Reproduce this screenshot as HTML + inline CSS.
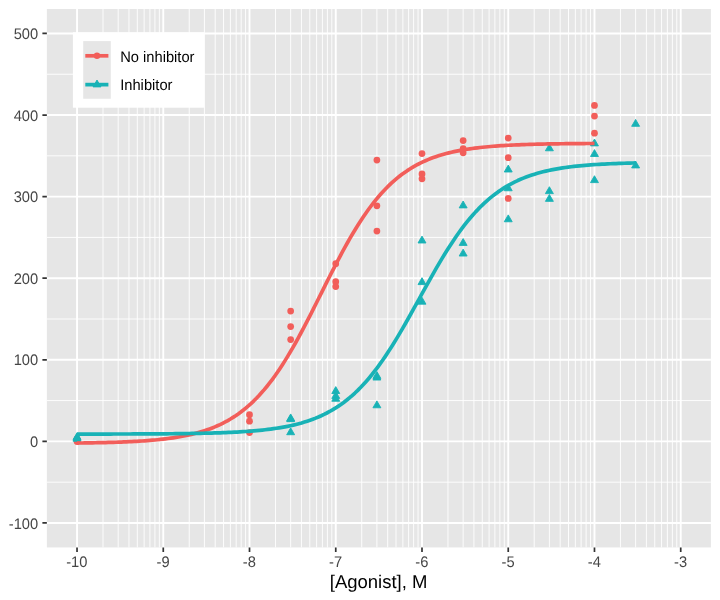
<!DOCTYPE html>
<html><head><meta charset="utf-8"><title>Dose response</title>
<style>
html,body{margin:0;padding:0;background:#fff;}
body{width:720px;height:600px;overflow:hidden;font-family:"Liberation Sans",sans-serif;}
svg{display:block;font-family:"Liberation Sans",sans-serif;}
svg{will-change:transform;}
svg text{text-rendering:geometricPrecision;}
</style></head><body>
<svg width="720" height="600" viewBox="0 0 720 600">
<defs><clipPath id="pc"><rect x="46.85" y="8.97" width="664.05" height="538.48"/></clipPath></defs>
<rect width="720" height="600" fill="#fff"/>
<rect x="46.85" y="8.97" width="664.05" height="538.48" fill="#E6E6E6"/>
<path d="M46.85 482.18H710.90M46.85 400.59H710.90M46.85 319.00H710.90M46.85 237.42H710.90M46.85 155.83H710.90M46.85 74.24H710.90M102.99 8.97V547.45M118.18 8.97V547.45M128.96 8.97V547.45M137.31 8.97V547.45M144.14 8.97V547.45M149.92 8.97V547.45M154.92 8.97V547.45M159.33 8.97V547.45M189.24 8.97V547.45M204.42 8.97V547.45M215.20 8.97V547.45M223.55 8.97V547.45M230.38 8.97V547.45M236.16 8.97V547.45M241.16 8.97V547.45M245.57 8.97V547.45M275.48 8.97V547.45M290.66 8.97V547.45M301.44 8.97V547.45M309.79 8.97V547.45M316.62 8.97V547.45M322.40 8.97V547.45M327.40 8.97V547.45M331.81 8.97V547.45M361.72 8.97V547.45M376.90 8.97V547.45M387.68 8.97V547.45M396.03 8.97V547.45M402.86 8.97V547.45M408.64 8.97V547.45M413.64 8.97V547.45M418.05 8.97V547.45M447.96 8.97V547.45M463.14 8.97V547.45M473.92 8.97V547.45M482.27 8.97V547.45M489.10 8.97V547.45M494.88 8.97V547.45M499.88 8.97V547.45M504.29 8.97V547.45M534.20 8.97V547.45M549.38 8.97V547.45M560.16 8.97V547.45M568.51 8.97V547.45M575.34 8.97V547.45M581.12 8.97V547.45M586.12 8.97V547.45M590.53 8.97V547.45M620.44 8.97V547.45M635.62 8.97V547.45M646.40 8.97V547.45M654.76 8.97V547.45M661.58 8.97V547.45M667.36 8.97V547.45M672.36 8.97V547.45M676.77 8.97V547.45" stroke="#fff" stroke-width="0.9" fill="none"/>
<path d="M46.85 522.97H710.90M46.85 441.39H710.90M46.85 359.80H710.90M46.85 278.21H710.90M46.85 196.62H710.90M46.85 115.03H710.90M46.85 33.45H710.90M77.03 8.97V547.45M163.27 8.97V547.45M249.51 8.97V547.45M335.75 8.97V547.45M422.00 8.97V547.45M508.24 8.97V547.45M594.48 8.97V547.45M680.72 8.97V547.45" stroke="#fff" stroke-width="1.9" fill="none"/>
<g clip-path="url(#pc)">
<circle cx="77.03" cy="441.59" r="3.37" fill="#F25E5A"/>
<circle cx="249.51" cy="432.61" r="3.37" fill="#F25E5A"/>
<circle cx="290.66" cy="339.60" r="3.37" fill="#F25E5A"/>
<circle cx="335.75" cy="286.57" r="3.37" fill="#F25E5A"/>
<circle cx="376.90" cy="231.09" r="3.37" fill="#F25E5A"/>
<circle cx="422.00" cy="178.87" r="3.37" fill="#F25E5A"/>
<circle cx="463.14" cy="152.76" r="3.37" fill="#F25E5A"/>
<circle cx="508.24" cy="157.66" r="3.37" fill="#F25E5A"/>
<circle cx="594.48" cy="105.44" r="3.37" fill="#F25E5A"/>
<circle cx="77.03" cy="439.14" r="3.37" fill="#F25E5A"/>
<circle cx="249.51" cy="414.66" r="3.37" fill="#F25E5A"/>
<circle cx="290.66" cy="311.05" r="3.37" fill="#F25E5A"/>
<circle cx="335.75" cy="263.72" r="3.37" fill="#F25E5A"/>
<circle cx="376.90" cy="205.80" r="3.37" fill="#F25E5A"/>
<circle cx="422.00" cy="153.58" r="3.37" fill="#F25E5A"/>
<circle cx="463.14" cy="148.69" r="3.37" fill="#F25E5A"/>
<circle cx="508.24" cy="198.45" r="3.37" fill="#F25E5A"/>
<circle cx="594.48" cy="133.18" r="3.37" fill="#F25E5A"/>
<circle cx="77.03" cy="439.95" r="3.37" fill="#F25E5A"/>
<circle cx="249.51" cy="421.19" r="3.37" fill="#F25E5A"/>
<circle cx="290.66" cy="326.55" r="3.37" fill="#F25E5A"/>
<circle cx="335.75" cy="281.67" r="3.37" fill="#F25E5A"/>
<circle cx="376.90" cy="160.11" r="3.37" fill="#F25E5A"/>
<circle cx="422.00" cy="173.98" r="3.37" fill="#F25E5A"/>
<circle cx="463.14" cy="140.53" r="3.37" fill="#F25E5A"/>
<circle cx="508.24" cy="138.08" r="3.37" fill="#F25E5A"/>
<circle cx="594.48" cy="116.05" r="3.37" fill="#F25E5A"/>
<path d="M77.03 434.35L81.01 441.23L73.06 441.23Z" fill="#18B2B6" stroke="#18B2B6" stroke-width="0.9" stroke-linejoin="round"/>
<path d="M290.66 427.82L294.63 434.71L286.69 434.71Z" fill="#18B2B6" stroke="#18B2B6" stroke-width="0.9" stroke-linejoin="round"/>
<path d="M335.75 394.37L339.73 401.25L331.78 401.25Z" fill="#18B2B6" stroke="#18B2B6" stroke-width="0.9" stroke-linejoin="round"/>
<path d="M376.90 371.53L380.87 378.41L372.93 378.41Z" fill="#18B2B6" stroke="#18B2B6" stroke-width="0.9" stroke-linejoin="round"/>
<path d="M422.00 297.28L425.97 304.16L418.02 304.16Z" fill="#18B2B6" stroke="#18B2B6" stroke-width="0.9" stroke-linejoin="round"/>
<path d="M463.14 201.01L467.12 207.89L459.17 207.89Z" fill="#18B2B6" stroke="#18B2B6" stroke-width="0.9" stroke-linejoin="round"/>
<path d="M508.24 214.88L512.21 221.76L504.26 221.76Z" fill="#18B2B6" stroke="#18B2B6" stroke-width="0.9" stroke-linejoin="round"/>
<path d="M549.38 143.90L553.36 150.78L545.41 150.78Z" fill="#18B2B6" stroke="#18B2B6" stroke-width="0.9" stroke-linejoin="round"/>
<path d="M594.48 149.61L598.45 156.49L590.50 156.49Z" fill="#18B2B6" stroke="#18B2B6" stroke-width="0.9" stroke-linejoin="round"/>
<path d="M635.62 119.42L639.60 126.30L631.65 126.30Z" fill="#18B2B6" stroke="#18B2B6" stroke-width="0.9" stroke-linejoin="round"/>
<path d="M77.03 432.72L81.01 439.60L73.06 439.60Z" fill="#18B2B6" stroke="#18B2B6" stroke-width="0.9" stroke-linejoin="round"/>
<path d="M290.66 414.77L294.63 421.65L286.69 421.65Z" fill="#18B2B6" stroke="#18B2B6" stroke-width="0.9" stroke-linejoin="round"/>
<path d="M335.75 386.62L339.73 393.50L331.78 393.50Z" fill="#18B2B6" stroke="#18B2B6" stroke-width="0.9" stroke-linejoin="round"/>
<path d="M376.90 400.90L380.87 407.78L372.93 407.78Z" fill="#18B2B6" stroke="#18B2B6" stroke-width="0.9" stroke-linejoin="round"/>
<path d="M422.00 236.09L425.97 242.97L418.02 242.97Z" fill="#18B2B6" stroke="#18B2B6" stroke-width="0.9" stroke-linejoin="round"/>
<path d="M463.14 238.54L467.12 245.42L459.17 245.42Z" fill="#18B2B6" stroke="#18B2B6" stroke-width="0.9" stroke-linejoin="round"/>
<path d="M508.24 165.11L512.21 171.99L504.26 171.99Z" fill="#18B2B6" stroke="#18B2B6" stroke-width="0.9" stroke-linejoin="round"/>
<path d="M549.38 194.48L553.36 201.36L545.41 201.36Z" fill="#18B2B6" stroke="#18B2B6" stroke-width="0.9" stroke-linejoin="round"/>
<path d="M594.48 139.00L598.45 145.88L590.50 145.88Z" fill="#18B2B6" stroke="#18B2B6" stroke-width="0.9" stroke-linejoin="round"/>
<path d="M77.03 433.53L81.01 440.42L73.06 440.42Z" fill="#18B2B6" stroke="#18B2B6" stroke-width="0.9" stroke-linejoin="round"/>
<path d="M290.66 413.95L294.63 420.84L286.69 420.84Z" fill="#18B2B6" stroke="#18B2B6" stroke-width="0.9" stroke-linejoin="round"/>
<path d="M335.75 391.52L339.73 398.40L331.78 398.40Z" fill="#18B2B6" stroke="#18B2B6" stroke-width="0.9" stroke-linejoin="round"/>
<path d="M376.90 373.16L380.87 380.04L372.93 380.04Z" fill="#18B2B6" stroke="#18B2B6" stroke-width="0.9" stroke-linejoin="round"/>
<path d="M422.00 277.70L425.97 284.58L418.02 284.58Z" fill="#18B2B6" stroke="#18B2B6" stroke-width="0.9" stroke-linejoin="round"/>
<path d="M463.14 249.15L467.12 256.03L459.17 256.03Z" fill="#18B2B6" stroke="#18B2B6" stroke-width="0.9" stroke-linejoin="round"/>
<path d="M508.24 183.88L512.21 190.76L504.26 190.76Z" fill="#18B2B6" stroke="#18B2B6" stroke-width="0.9" stroke-linejoin="round"/>
<path d="M549.38 186.73L553.36 193.61L545.41 193.61Z" fill="#18B2B6" stroke="#18B2B6" stroke-width="0.9" stroke-linejoin="round"/>
<path d="M594.48 175.72L598.45 182.60L590.50 182.60Z" fill="#18B2B6" stroke="#18B2B6" stroke-width="0.9" stroke-linejoin="round"/>
<path d="M635.62 161.03L639.60 167.91L631.65 167.91Z" fill="#18B2B6" stroke="#18B2B6" stroke-width="0.9" stroke-linejoin="round"/>
<path d="M77.03 443.04L79.63 443.01L82.23 442.98L84.83 442.94L87.43 442.90L90.04 442.86L92.64 442.81L95.24 442.77L97.84 442.71L100.44 442.66L103.04 442.60L105.64 442.54L108.24 442.47L110.84 442.40L113.44 442.32L116.04 442.23L118.64 442.14L121.24 442.05L123.84 441.95L126.44 441.84L129.04 441.72L131.64 441.59L134.24 441.46L136.84 441.31L139.44 441.16L142.04 440.99L144.64 440.81L147.24 440.62L149.84 440.42L152.44 440.20L155.04 439.97L157.64 439.72L160.24 439.45L162.84 439.17L165.44 438.86L168.04 438.53L170.64 438.18L173.24 437.81L175.84 437.41L178.44 436.98L181.04 436.53L183.64 436.04L186.24 435.52L188.84 434.96L191.44 434.37L194.04 433.73L196.64 433.06L199.24 432.34L201.84 431.57L204.44 430.75L207.04 429.87L209.64 428.94L212.24 427.95L214.85 426.90L217.45 425.77L220.05 424.58L222.65 423.31L225.25 421.97L227.85 420.54L230.45 419.02L233.05 417.42L235.65 415.72L238.25 413.92L240.85 412.01L243.45 410.00L246.05 407.88L248.65 405.64L251.25 403.29L253.85 400.81L256.45 398.20L259.05 395.47L261.65 392.60L264.25 389.60L266.85 386.46L269.45 383.19L272.05 379.77L274.65 376.22L277.25 372.53L279.85 368.70L282.45 364.73L285.05 360.63L287.65 356.40L290.25 352.05L292.85 347.57L295.45 342.99L298.05 338.29L300.65 333.50L303.25 328.62L305.85 323.66L308.45 318.63L311.05 313.54L313.65 308.40L316.25 303.22L318.85 298.02L321.45 292.82L324.05 287.61L326.65 282.41L329.25 277.25L331.85 272.12L334.45 267.04L337.05 262.02L339.66 257.07L342.26 252.21L344.86 247.44L347.46 242.77L350.06 238.20L352.66 233.76L355.26 229.43L357.86 225.23L360.46 221.16L363.06 217.22L365.66 213.42L368.26 209.76L370.86 206.23L373.46 202.85L376.06 199.60L378.66 196.49L381.26 193.52L383.86 190.68L386.46 187.97L389.06 185.40L391.66 182.94L394.26 180.61L396.86 178.40L399.46 176.30L402.06 174.32L404.66 172.44L407.26 170.66L409.86 168.98L412.46 167.39L415.06 165.90L417.66 164.49L420.26 163.16L422.86 161.91L425.46 160.73L428.06 159.62L430.66 158.58L433.26 157.60L435.86 156.68L438.46 155.82L441.06 155.01L443.66 154.25L446.26 153.54L448.86 152.87L451.46 152.25L454.06 151.66L456.66 151.11L459.26 150.60L461.86 150.12L464.47 149.67L467.07 149.25L469.67 148.85L472.27 148.49L474.87 148.14L477.47 147.82L480.07 147.52L482.67 147.24L485.27 146.97L487.87 146.73L490.47 146.50L493.07 146.28L495.67 146.08L498.27 145.89L500.87 145.72L503.47 145.56L506.07 145.40L508.67 145.26L511.27 145.13L513.87 145.00L516.47 144.89L519.07 144.78L521.67 144.68L524.27 144.58L526.87 144.50L529.47 144.41L532.07 144.34L534.67 144.26L537.27 144.20L539.87 144.14L542.47 144.08L545.07 144.02L547.67 143.97L550.27 143.92L552.87 143.88L555.47 143.84L558.07 143.80L560.67 143.76L563.27 143.73L565.87 143.70L568.47 143.67L571.07 143.64L573.67 143.62L576.27 143.59L578.87 143.57L581.47 143.55L584.07 143.53L586.68 143.51L589.28 143.50L591.88 143.48L594.48 143.47" stroke="#F25E5A" stroke-width="3.7" fill="none" stroke-linejoin="round" stroke-linecap="butt"/>
<path d="M77.03 434.07L79.84 434.07L82.65 434.07L85.46 434.06L88.26 434.06L91.07 434.06L93.88 434.05L96.68 434.05L99.49 434.05L102.30 434.04L105.10 434.04L107.91 434.03L110.72 434.03L113.52 434.02L116.33 434.02L119.14 434.01L121.95 434.00L124.75 434.00L127.56 433.99L130.37 433.98L133.17 433.97L135.98 433.96L138.79 433.95L141.59 433.94L144.40 433.92L147.21 433.91L150.02 433.90L152.82 433.88L155.63 433.86L158.44 433.85L161.24 433.83L164.05 433.80L166.86 433.78L169.66 433.76L172.47 433.73L175.28 433.70L178.09 433.67L180.89 433.64L183.70 433.60L186.51 433.56L189.31 433.52L192.12 433.47L194.93 433.43L197.73 433.37L200.54 433.32L203.35 433.26L206.16 433.19L208.96 433.12L211.77 433.05L214.58 432.96L217.38 432.88L220.19 432.78L223.00 432.68L225.80 432.57L228.61 432.45L231.42 432.32L234.22 432.18L237.03 432.04L239.84 431.88L242.65 431.71L245.45 431.52L248.26 431.32L251.07 431.11L253.87 430.88L256.68 430.63L259.49 430.37L262.29 430.08L265.10 429.77L267.91 429.44L270.72 429.08L273.52 428.70L276.33 428.29L279.14 427.85L281.94 427.37L284.75 426.87L287.56 426.32L290.36 425.73L293.17 425.10L295.98 424.43L298.79 423.70L301.59 422.93L304.40 422.09L307.21 421.20L310.01 420.25L312.82 419.23L315.63 418.14L318.43 416.98L321.24 415.74L324.05 414.41L326.86 413.00L329.66 411.49L332.47 409.89L335.28 408.19L338.08 406.38L340.89 404.45L343.70 402.41L346.50 400.26L349.31 397.97L352.12 395.56L354.92 393.01L357.73 390.33L360.54 387.51L363.35 384.54L366.15 381.43L368.96 378.17L371.77 374.77L374.57 371.22L377.38 367.53L380.19 363.69L382.99 359.70L385.80 355.59L388.61 351.34L391.42 346.96L394.22 342.46L397.03 337.85L399.84 333.14L402.64 328.34L405.45 323.46L408.26 318.51L411.06 313.50L413.87 308.45L416.68 303.37L419.49 298.28L422.29 293.18L425.10 288.10L427.91 283.05L430.71 278.04L433.52 273.09L436.33 268.20L439.13 263.39L441.94 258.67L444.75 254.06L447.56 249.55L450.36 245.17L453.17 240.91L455.98 236.78L458.78 232.79L461.59 228.94L464.40 225.23L467.20 221.67L470.01 218.26L472.82 215.00L475.62 211.88L478.43 208.90L481.24 206.07L484.05 203.38L486.85 200.82L489.66 198.40L492.47 196.11L495.27 193.94L498.08 191.89L500.89 189.96L503.69 188.14L506.50 186.43L509.31 184.82L512.12 183.31L514.92 181.89L517.73 180.56L520.54 179.31L523.34 178.14L526.15 177.05L528.96 176.02L531.76 175.07L534.57 174.17L537.38 173.34L540.19 172.56L542.99 171.83L545.80 171.15L548.61 170.52L551.41 169.93L554.22 169.38L557.03 168.87L559.83 168.39L562.64 167.95L565.45 167.54L568.26 167.15L571.06 166.79L573.87 166.46L576.68 166.15L579.48 165.86L582.29 165.60L585.10 165.35L587.90 165.12L590.71 164.90L593.52 164.70L596.33 164.52L599.13 164.34L601.94 164.18L604.75 164.04L607.55 163.90L610.36 163.77L613.17 163.65L615.97 163.54L618.78 163.44L621.59 163.34L624.39 163.25L627.20 163.17L630.01 163.09L632.82 163.02L635.62 162.96" stroke="#18B2B6" stroke-width="3.7" fill="none" stroke-linejoin="round" stroke-linecap="butt"/>
</g>
<path d="M42.40 522.97H46.85M42.40 441.39H46.85M42.40 359.80H46.85M42.40 278.21H46.85M42.40 196.62H46.85M42.40 115.03H46.85M42.40 33.45H46.85M77.03 547.45V551.90M163.27 547.45V551.90M249.51 547.45V551.90M335.75 547.45V551.90M422.00 547.45V551.90M508.24 547.45V551.90M594.48 547.45V551.90M680.72 547.45V551.90" stroke="#333333" stroke-width="1.7" fill="none"/>
<text transform="translate(38.20 528.57) scale(1 1.045)" text-anchor="end" font-size="14.7" fill="#464646">-100</text>
<text transform="translate(38.20 446.99) scale(1 1.045)" text-anchor="end" font-size="14.7" fill="#464646">0</text>
<text transform="translate(38.20 365.40) scale(1 1.045)" text-anchor="end" font-size="14.7" fill="#464646">100</text>
<text transform="translate(38.20 283.81) scale(1 1.045)" text-anchor="end" font-size="14.7" fill="#464646">200</text>
<text transform="translate(38.20 202.22) scale(1 1.045)" text-anchor="end" font-size="14.7" fill="#464646">300</text>
<text transform="translate(38.20 120.63) scale(1 1.045)" text-anchor="end" font-size="14.7" fill="#464646">400</text>
<text transform="translate(38.20 39.05) scale(1 1.045)" text-anchor="end" font-size="14.7" fill="#464646">500</text>
<text transform="translate(76.83 567.0) scale(1 1.045)" text-anchor="middle" font-size="14.7" fill="#464646">-10</text>
<text transform="translate(163.07 567.0) scale(1 1.045)" text-anchor="middle" font-size="14.7" fill="#464646">-9</text>
<text transform="translate(249.31 567.0) scale(1 1.045)" text-anchor="middle" font-size="14.7" fill="#464646">-8</text>
<text transform="translate(335.55 567.0) scale(1 1.045)" text-anchor="middle" font-size="14.7" fill="#464646">-7</text>
<text transform="translate(421.80 567.0) scale(1 1.045)" text-anchor="middle" font-size="14.7" fill="#464646">-6</text>
<text transform="translate(508.04 567.0) scale(1 1.045)" text-anchor="middle" font-size="14.7" fill="#464646">-5</text>
<text transform="translate(594.28 567.0) scale(1 1.045)" text-anchor="middle" font-size="14.7" fill="#464646">-4</text>
<text transform="translate(680.52 567.0) scale(1 1.045)" text-anchor="middle" font-size="14.7" fill="#464646">-3</text>
<text transform="translate(329.75 587.7) scale(1 1.03)" textLength="97.7" lengthAdjust="spacingAndGlyphs" font-size="17.9" fill="#000">[Agonist], M</text>
<rect x="72.9" y="32.3" width="131.50" height="75.40" fill="#fff"/>
<rect x="83.2" y="41.1" width="27.60" height="57.64" fill="#E6E6E6"/>
<circle cx="97.00" cy="55.81" r="3.20" fill="#F25E5A"/>
<path d="M85.3 55.81H108.4" stroke="#F25E5A" stroke-width="3.7"/>
<text transform="translate(120.2 61.9) scale(1 1.045)" font-size="14.7" fill="#000">No inhibitor</text>
<path d="M97.00 80.04L100.97 86.92L93.03 86.92Z" fill="#18B2B6" stroke="#18B2B6" stroke-width="0.9" stroke-linejoin="round"/>
<path d="M85.3 84.63H108.4" stroke="#18B2B6" stroke-width="3.7"/>
<text transform="translate(120.2 90.0) scale(1 1.045)" font-size="14.7" fill="#000">Inhibitor</text>
</svg>
</body></html>
